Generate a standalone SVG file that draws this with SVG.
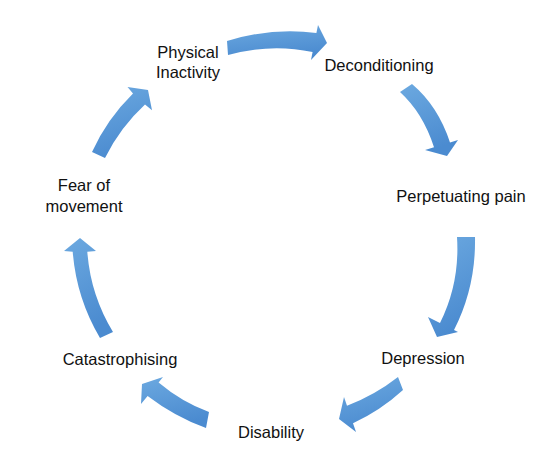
<svg xmlns="http://www.w3.org/2000/svg" width="555" height="467" viewBox="0 0 555 467">
  <defs>
    <linearGradient id="blue" x1="0" y1="0" x2="0.3" y2="1">
      <stop offset="0" stop-color="#6ca9e0"/>
      <stop offset="1" stop-color="#4b8bd0"/>
    </linearGradient>
  </defs>
  <style>
    .arrow { fill: url(#blue); stroke: none; }
    .label { font-family: "Liberation Sans", Arial, sans-serif; font-size: 16.5px; fill: #111; text-anchor: middle; }
  </style>
  <rect width="555" height="467" fill="#ffffff"/>
  <g id="connectors">
    <path class="arrow" d="M227,41 Q273,27 316.4,33 L318,25 L327,43 L311,60 L312.6,52 Q271,43 228,55 Z"/>
    <path class="arrow" d="M412,84 Q438,106 450,142.4 L458,140 L447,156 L425,150 L434,147.3 Q423,113 400,92 Z"/>
    <path class="arrow" d="M475,237 Q476,287 454,330 L458,332 L437,337 L428,317 L440,323 Q460,283 457,237 Z"/>
    <path class="arrow" d="M398,377 Q375,395 347,405.75 L344,397 L339,419 L356,432 L353,423.25 Q380.5,410.5 403,390 Z"/>
    <path class="arrow" d="M209,412 Q181.4,401.6 158.6,382.4 L163,377 L142,384 L141,404 L147.6,395.9 Q174.3,416.3 206,428 Z"/>
    <path class="arrow" d="M113,332 Q90.5,295 87.3,251.7 L96,251 L80,238 L64,251 L72.7,251.7 Q76.3,298 100,338 Z"/>
    <path class="arrow" d="M92,152 Q107,119 133,93.5 L127.5,86.9 L148,90 L152,110.3 L145,104.5 Q120,127.5 105,158 Z"/>
  </g>
  <g id="node-physical-inactivity">
    <text class="label" x="188" y="58">Physical</text>
    <text class="label" x="188" y="78">Inactivity</text>
  </g>
  <g id="node-deconditioning">
    <text class="label" x="379" y="71">Deconditioning</text>
  </g>
  <g id="node-perpetuating-pain">
    <text class="label" x="461" y="202">Perpetuating pain</text>
  </g>
  <g id="node-depression">
    <text class="label" x="423" y="364">Depression</text>
  </g>
  <g id="node-disability">
    <text class="label" x="271" y="438">Disability</text>
  </g>
  <g id="node-catastrophising">
    <text class="label" x="120" y="365">Catastrophising</text>
  </g>
  <g id="node-fear-of-movement">
    <text class="label" x="84" y="191">Fear of</text>
    <text class="label" x="84" y="212">movement</text>
  </g>
</svg>
